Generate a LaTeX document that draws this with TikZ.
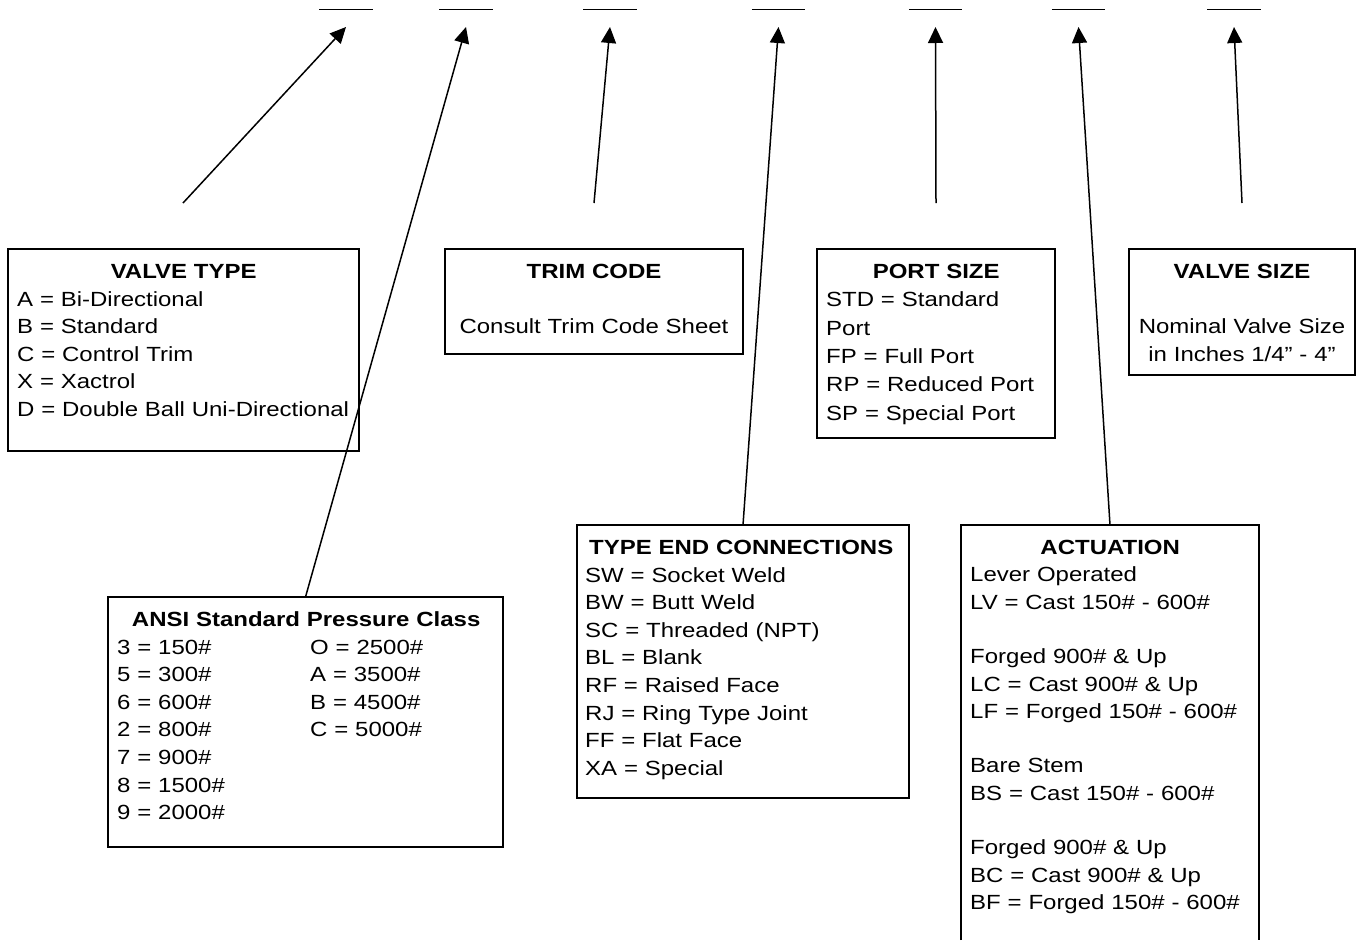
\documentclass[tikz,border=0pt]{standalone}
\usepackage{fontspec}
\setmainfont{Liberation Sans}[FakeStretch=1.17]
\usetikzlibrary{arrows.meta}
\newcommand{\BoxHead}[1]{\makebox[\linewidth]{\bfseries #1}}

\begin{document}
\begin{tikzpicture}[x=1pt,y=-1pt,
 box/.style={draw,line width=2pt,inner sep=0pt,outer sep=0pt,anchor=north west},
 body/.style={anchor=base west,inner sep=0pt,align=left,
   font=\fontsize{20.5}{27.6}\selectfont},
 bodymid/.style={body,anchor=base,align=center},
 slot/.style={inner sep=0pt,minimum width=53pt,minimum height=0pt},
 % Leaders end a little below their blank, tip first.
 lead/.style={line width=1.5pt,-{Triangle[length=16pt,width=15pt]}}]
\useasboundingbox (0,0) rectangle (1357,940);

% Blanks of the ordering code.
\foreach \name/\xc in {slot1/346,slot2/466,slot3/610,slot4/778.5,
  slot5/935.5,slot6/1078.5,slot7/1234}{
  \node[slot] (\name) at (\xc,9) {};
  \draw[line width=1pt] (\name.west) -- (\name.east);
}

% Upper row of boxes.
\node[box,minimum width=351pt,minimum height=202pt] (vtype) at (8,249) {};
\node[body,text width=333pt] (vtypetxt) at (17,278.5)
 {\BoxHead{VALVE TYPE}\\
  A = Bi-Directional\\
  B = Standard\\
  C = Control Trim\\
  X = Xactrol\\
  D = Double Ball Uni-Directional};

\node[box,minimum width=298pt,minimum height=105pt] (trim) at (445,249) {};
\node[bodymid,text width=280pt] (trimtxt) at (594,278.5)
 {\textbf{TRIM CODE}\\[\baselineskip]
  Consult Trim Code Sheet};

\node[box,minimum width=238pt,minimum height=189pt] (port) at (817,249) {};
\node[body,text width=220pt,font=\fontsize{20.5}{28.3}\selectfont]
 (porttxt) at (826,278.5)
 {\BoxHead{PORT SIZE}\\
  STD = Standard\\
  Port\\
  FP = Full Port\\
  RP = Reduced Port\\
  SP = Special Port};

\node[box,minimum width=226pt,minimum height=126pt] (vsize) at (1129,249) {};
\node[bodymid,text width=210pt] (vsizetxt) at (1242,278.5)
 {\textbf{VALVE SIZE}\\[\baselineskip]
  Nominal Valve Size\\
  in Inches 1/4” - 4”};

% Lower row of boxes.
\node[box,minimum width=395pt,minimum height=250pt] (ansi) at (108,597) {};
\node[body,text width=378pt] (ansitxt) at (117,626.5)
 {\BoxHead{ANSI Standard Pressure Class}\\
  \makebox[193pt][l]{3 = 150\#}O = 2500\#\\
  \makebox[193pt][l]{5 = 300\#}A = 3500\#\\
  \makebox[193pt][l]{6 = 600\#}B = 4500\#\\
  \makebox[193pt][l]{2 = 800\#}C = 5000\#\\
  7 = 900\#\\
  8 = 1500\#\\
  9 = 2000\#};

\node[box,minimum width=332pt,minimum height=273pt] (ends) at (577,525) {};
\node[body,text width=312pt] (endstxt) at (585,554.5)
 {\BoxHead{TYPE END CONNECTIONS}\\
  SW = Socket Weld\\
  BW = Butt Weld\\
  SC = Threaded (NPT)\\
  BL = Blank\\
  RF = Raised Face\\
  RJ = Ring Type Joint\\
  FF = Flat Face\\
  XA = Special};

% The actuation box runs off the foot of the sheet, so it has no bottom edge.
\node[inner sep=0pt,outer sep=0pt,anchor=north west,
 minimum width=298pt,minimum height=415pt] (act) at (961,525) {};
\draw[line width=2pt] (act.south west) -- (act.north west)
 -- (act.north east) -- (act.south east);
\node[body,text width=280pt,font=\fontsize{20.5}{27.3}\selectfont]
 (acttxt) at (970,554.5)
 {\BoxHead{ACTUATION}\\
  Lever Operated\\
  LV = Cast 150\# - 600\#\\[\baselineskip]
  Forged 900\# \& Up\\
  LC = Cast 900\# \& Up\\
  LF = Forged 150\# - 600\#\\[\baselineskip]
  Bare Stem\\
  BS = Cast 150\# - 600\#\\[\baselineskip]
  Forged 900\# \& Up\\
  BC = Cast 900\# \& Up\\
  BF = Forged 150\# - 600\#};

% Leaders from each box up to its blank.
\coordinate (vtypefoot) at (183,203);
\coordinate (trimfoot) at (594,203);
\coordinate (portfoot) at (936,203);
\coordinate (vsizefoot) at (1242,203);
\draw[lead] (vtypefoot) -- ([yshift=-18pt]slot1.center);
\draw[lead] (ansi.north) -- ([yshift=-18pt]slot2.center);
\draw[lead] (trimfoot) -- ([yshift=-18pt]slot3.center);
\draw[lead] (ends.north) -- ([yshift=-18pt]slot4.center);
\draw[lead] (portfoot) -- ([yshift=-18pt]slot5.center);
\draw[lead] (act.north) -- ([yshift=-18pt]slot6.center);
\draw[lead] (vsizefoot) -- ([yshift=-18pt]slot7.center);
\end{tikzpicture}
\end{document}
